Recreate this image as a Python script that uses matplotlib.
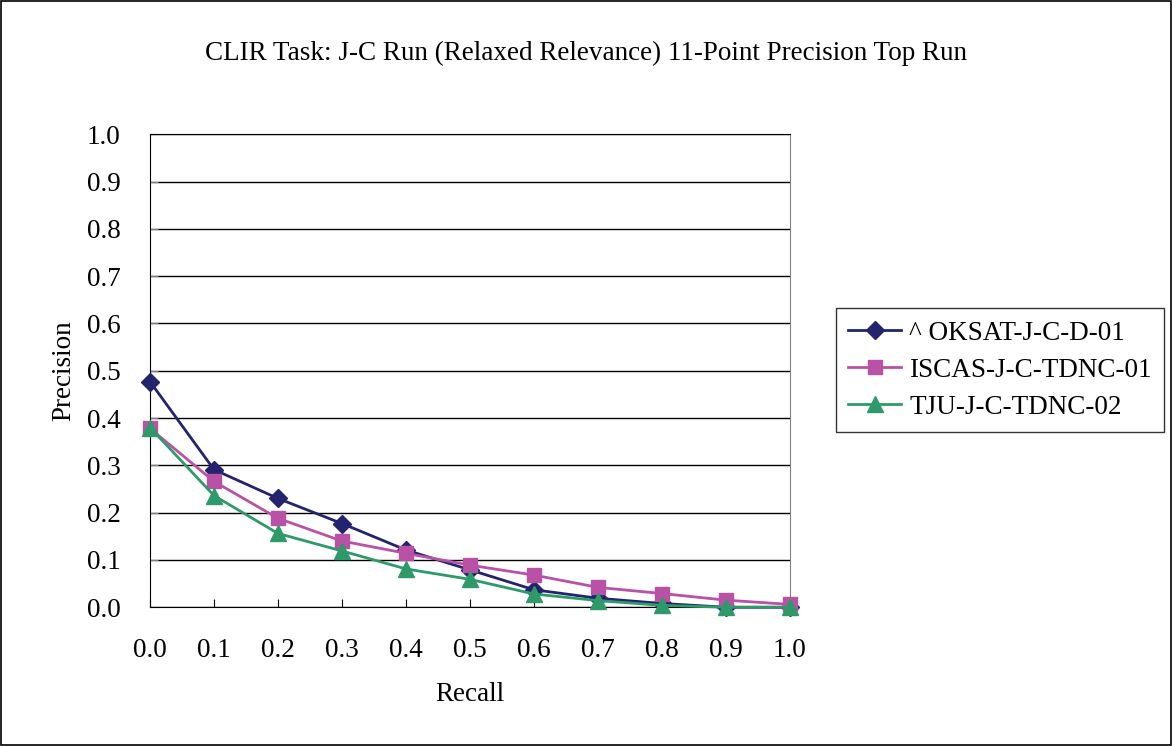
import matplotlib
matplotlib.use("Agg")
import matplotlib.pyplot as plt
from matplotlib.patches import Rectangle

plt.rcParams["font.family"] = ["Liberation Serif", "DejaVu Serif"]

recall = [0.0, 0.1, 0.2, 0.3, 0.4, 0.5, 0.6, 0.7, 0.8, 0.9, 1.0]
oksat = [0.477, 0.291, 0.230, 0.177, 0.121, 0.079, 0.037, 0.019, 0.008, 0.0, 0.0]
iscas = [0.378, 0.266, 0.188, 0.140, 0.114, 0.089, 0.068, 0.042, 0.029, 0.015, 0.006]
tju = [0.380, 0.236, 0.156, 0.119, 0.081, 0.059, 0.028, 0.014, 0.004, 0.0, 0.0]

series = [
    ("^ OKSAT-J-C-D-01", oksat, "#23236E", "D", 9.5),
    ("ISCAS-J-C-TDNC-01", iscas, "#B952A6", "s", 10),
    ("TJU-J-C-TDNC-02", tju, "#2E9A6A", "^", 11),
]

fig = plt.figure(figsize=(11.72, 7.46), dpi=100)
ax = fig.add_axes([0.128, 0.186, 0.546, 0.634])

for label, vals, color, marker, ms in series:
    ax.plot(recall, vals, color=color, marker=marker, markersize=ms,
            linewidth=2, label=label, clip_on=False, zorder=3)

ax.set_xlim(0, 1.0)
ax.set_ylim(0, 1.0)
ax.set_xticks(recall)
ax.set_xticklabels([f"{v:.1f}" for v in recall])
ax.set_yticks([i / 10 for i in range(11)])
ax.set_yticklabels([f"{i / 10:.1f}" for i in range(11)])
ax.yaxis.grid(True, color="black", linewidth=1)
ax.set_axisbelow(True)
ax.tick_params(axis="both", labelsize=19.5, direction="in", length=6)
ax.tick_params(axis="x", pad=22, color="black")
ax.tick_params(axis="y", pad=21, color="#808080")
ax.spines["right"].set_color("#808080")
for side in ["top", "left", "bottom"]:
    ax.spines[side].set_color("black")

ax.set_xlabel("Recall", fontsize=19.5, labelpad=14)
ax.set_ylabel("Precision", fontsize=19.5, labelpad=8)

fig.text(0.5, 0.928, "CLIR Task: J-C Run (Relaxed Relevance) 11-Point Precision Top Run",
         ha="center", va="center", fontsize=19.5)

leg = ax.legend(loc="upper left", bbox_to_anchor=(1.072, 0.632), borderaxespad=0,
                fontsize=19.5, frameon=True, fancybox=False, edgecolor="black",
                handlelength=1.95, handletextpad=0.3, borderpad=0.45, labelspacing=0.45)
leg.get_frame().set_linewidth(1)

fig.patches.append(Rectangle((0.001, 0.001), 0.998, 0.997, transform=fig.transFigure,
                             fill=False, edgecolor="black", linewidth=1.2))

fig.savefig("out.png", dpi=100)
